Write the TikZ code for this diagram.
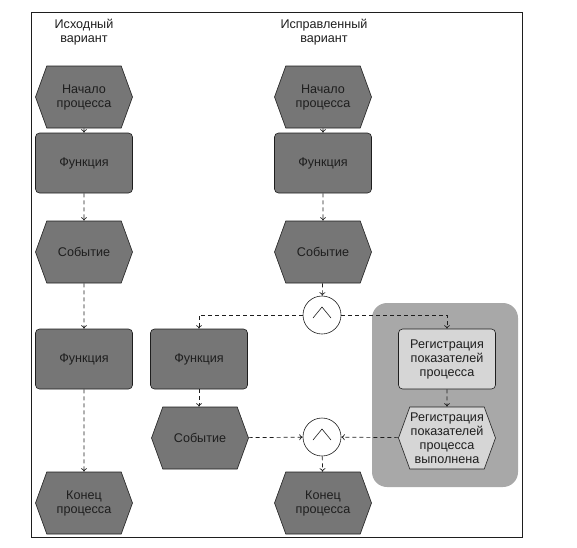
\documentclass[tikz,border=0pt]{standalone}
\usepackage{fontspec}
\setmainfont{Liberation Sans}
\usetikzlibrary{arrows.meta,shapes.symbols}
\definecolor{dark}{HTML}{767676}
\definecolor{pale}{HTML}{D6D6D6}
\definecolor{group}{HTML}{A8A8A8}
\definecolor{ink}{HTML}{1E1E1E}
\tikzset{
  font=\fontsize{12.6}{14}\selectfont,
  >={To[length=3.5pt,width=6pt]},
  flow/.style={->, ink, line width=0.7pt, dash pattern=on 4pt off 3pt},
  func/.style={draw=ink, fill=dark, rounded corners=4pt, minimum width=97pt,
    minimum height=60pt, align=center, text=ink, line width=0.6pt},
  evt/.style={draw=ink, fill=dark, signal, signal to=west and east,
    signal pointer angle=140, minimum width=97pt, minimum height=62pt,
    inner xsep=0pt, align=center, text=ink, line width=0.6pt},
  andop/.style={draw=ink, fill=white, circle, minimum size=38pt, inner sep=0pt, line width=0.6pt},
  title/.style={align=center, text=ink},
}

\begin{document}
\begin{tikzpicture}[x=1pt, y=-1pt]
\useasboundingbox (0,0) rectangle (577,547);
\draw[ink, line width=0.8pt] (31,12) rectangle (522,537);

% ---------------- group of added steps ----------------
\fill[group, rounded corners=15pt] (372,303) rectangle (518,487);

% ---------------- original variant ----------------
\node[title] (t1) at (84,32) {Исходный\\вариант};
\node[evt]  (s1) at (84,97)  {Начало\\процесса};
\node[func] (f1) at (84,163) {Функция};
\node[evt]  (e1) at (84,252) {Событие};
\node[func] (g1) at (84,359) {Функция};
\node[evt]  (z1) at (84,503) {Конец\\процесса};

% ---------------- corrected variant ----------------
\node[title] (t2) at (324,32) {Исправленный\\вариант};
\node[evt]  (s2) at (323,97)  {Начало\\процесса};
\node[func] (f2) at (323,163) {Функция};
\node[evt]  (e2) at (323,252) {Событие};
\node[andop] (and1) at (322,315) {};
\node[func] (fl) at (199,359) {Функция};
\node[evt]  (el) at (200,438) {Событие};
\node[func, fill=pale] (reg) at (447,359) {Регистрация\\показателей\\процесса};
\node[evt, fill=pale] (regev) at (447,438) {Регистрация\\показателей\\процесса\\выполнена};
\node[andop] (and2) at (322,437) {};
\node[evt]  (z2) at (323,503) {Конец\\процесса};

% the AND marks
\foreach \n in {and1,and2}
  \draw[ink, line width=0.6pt] (\n.center) ++(-9,3) -- ++(9,-11) -- ++(9,11);

% ---------------- connectors ----------------
\draw[flow] (s1) -- (f1);
\draw[flow] (f1) -- (e1);
\draw[flow] (e1) -- (g1);
\draw[flow] (g1) -- (z1);

\draw[flow] (s2) -- (f2);
\draw[flow] (f2) -- (e2);
\draw[flow] (e2) -- (and1);
\draw[flow] (and1) -| (fl);
\draw[flow] (and1) -| (reg);
\draw[flow] (fl) -- (fl |- el.north);
\draw[flow] (reg) -- (regev);
\draw[flow] (el) -- (and2);
\draw[flow] (regev) -- (and2);
\draw[flow] (and2) -- (z2);

\end{tikzpicture}
\end{document}
